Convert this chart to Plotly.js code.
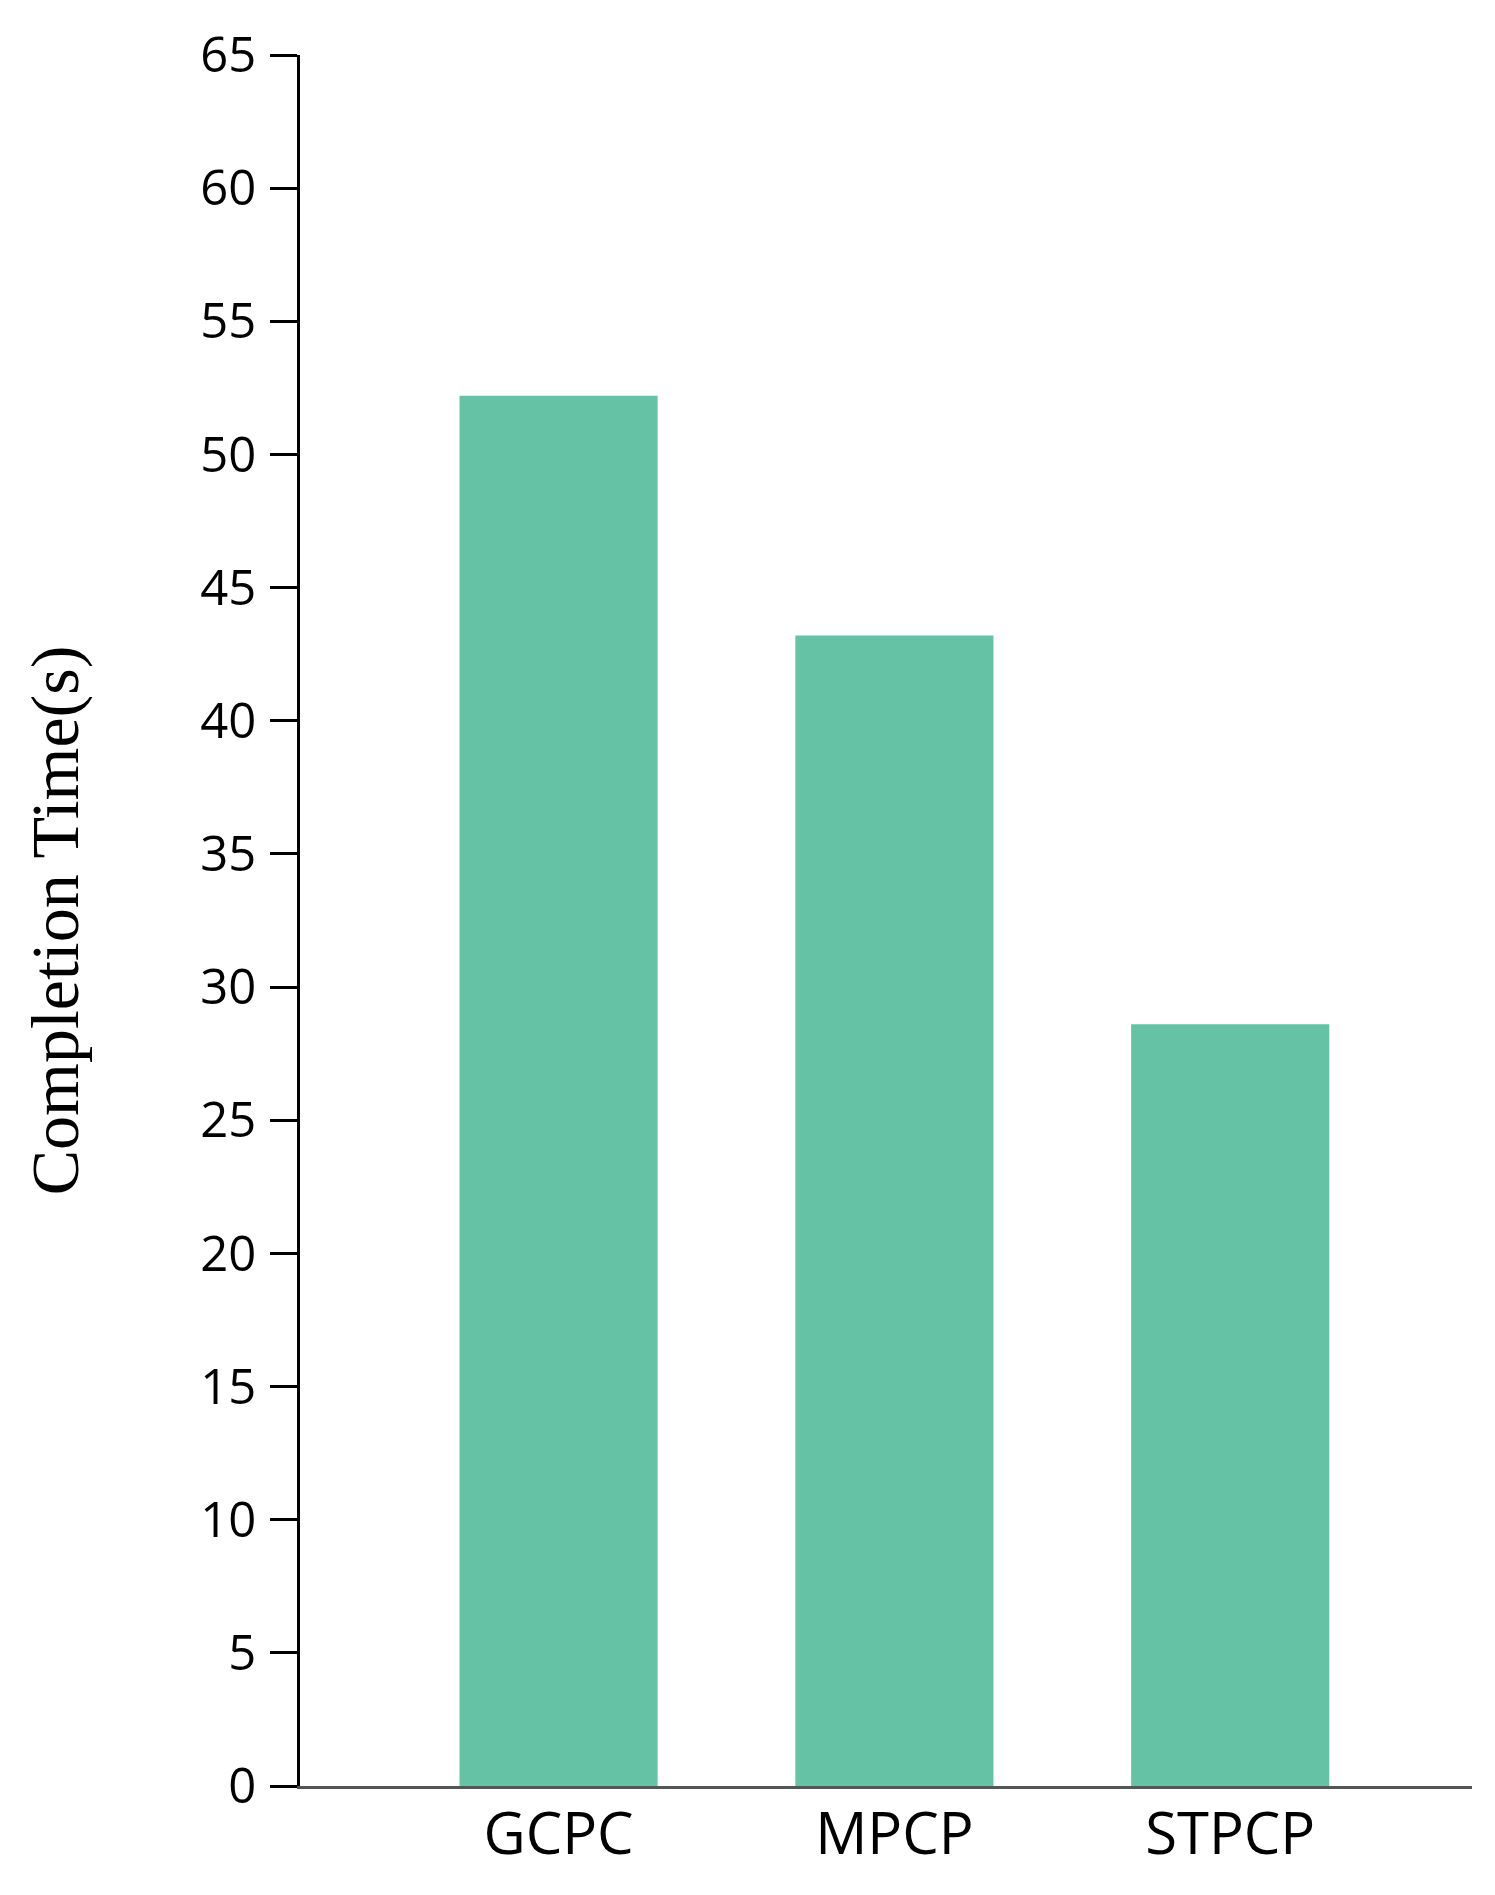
<!DOCTYPE html>
<html lang="en">
<head>
    <meta charset="UTF-8">
    <title>Completion Time</title>
    <script src="https://cdn.plot.ly/plotly-3.0.1.min.js"></script>
    <style>
        body, html {
            margin: 0;
            padding: 0;
            background: white;
        }
        #chart {
            width: 1495px;
            height: 1895px;
        }
    </style>
</head>
<body>
    <div id="chart"></div>
    <script>
        // Values
        const methods = ['GCPC', 'MPCP', 'STPCP'];
        const completionTime = [52.2, 43.2, 28.6];
        const yTicks = [0, 5, 10, 15, 20, 25, 30, 35, 40, 45, 50, 55, 60, 65];

        const data = [{
            type: 'bar',
            x: methods,
            y: completionTime,
            marker: {color: '#66c2a5', line: {width: 0}},
            hoverinfo: 'x+y'
        }];

        const layout = {
            width: 1495,
            height: 1895,
            margin: {l: 300, r: 23, t: 55, b: 109},
            paper_bgcolor: 'white',
            plot_bgcolor: 'white',
            showlegend: false,
            bargap: 0.41,
            font: {family: 'Open Sans, sans-serif', color: '#000'},
            xaxis: {
                range: [-0.77, 2.72],
                showline: true,
                linecolor: '#555',
                linewidth: 3,
                ticks: '',
                showgrid: false,
                zeroline: false,
                tickfont: {size: 58, family: 'Open Sans, sans-serif', color: '#000'},
                ticklabelstandoff: -5
            },
            yaxis: {
                range: [0, 65],
                tickvals: yTicks,
                showline: true,
                linecolor: '#000',
                linewidth: 3,
                ticks: 'outside',
                ticklen: 27,
                tickwidth: 3,
                tickcolor: '#000',
                showgrid: false,
                zeroline: false,
                tickfont: {size: 49, family: 'Open Sans, sans-serif', color: '#000'},
                ticklabelstandoff: 4,
                title: {
                    text: 'Completion Time(s)',
                    font: {size: 68, family: 'Liberation Serif, Times New Roman, serif', color: '#000'},
                    standoff: 100
                }
            }
        };

        Plotly.newPlot('chart', data, layout, {displayModeBar: false});
    </script>
</body>
</html>
